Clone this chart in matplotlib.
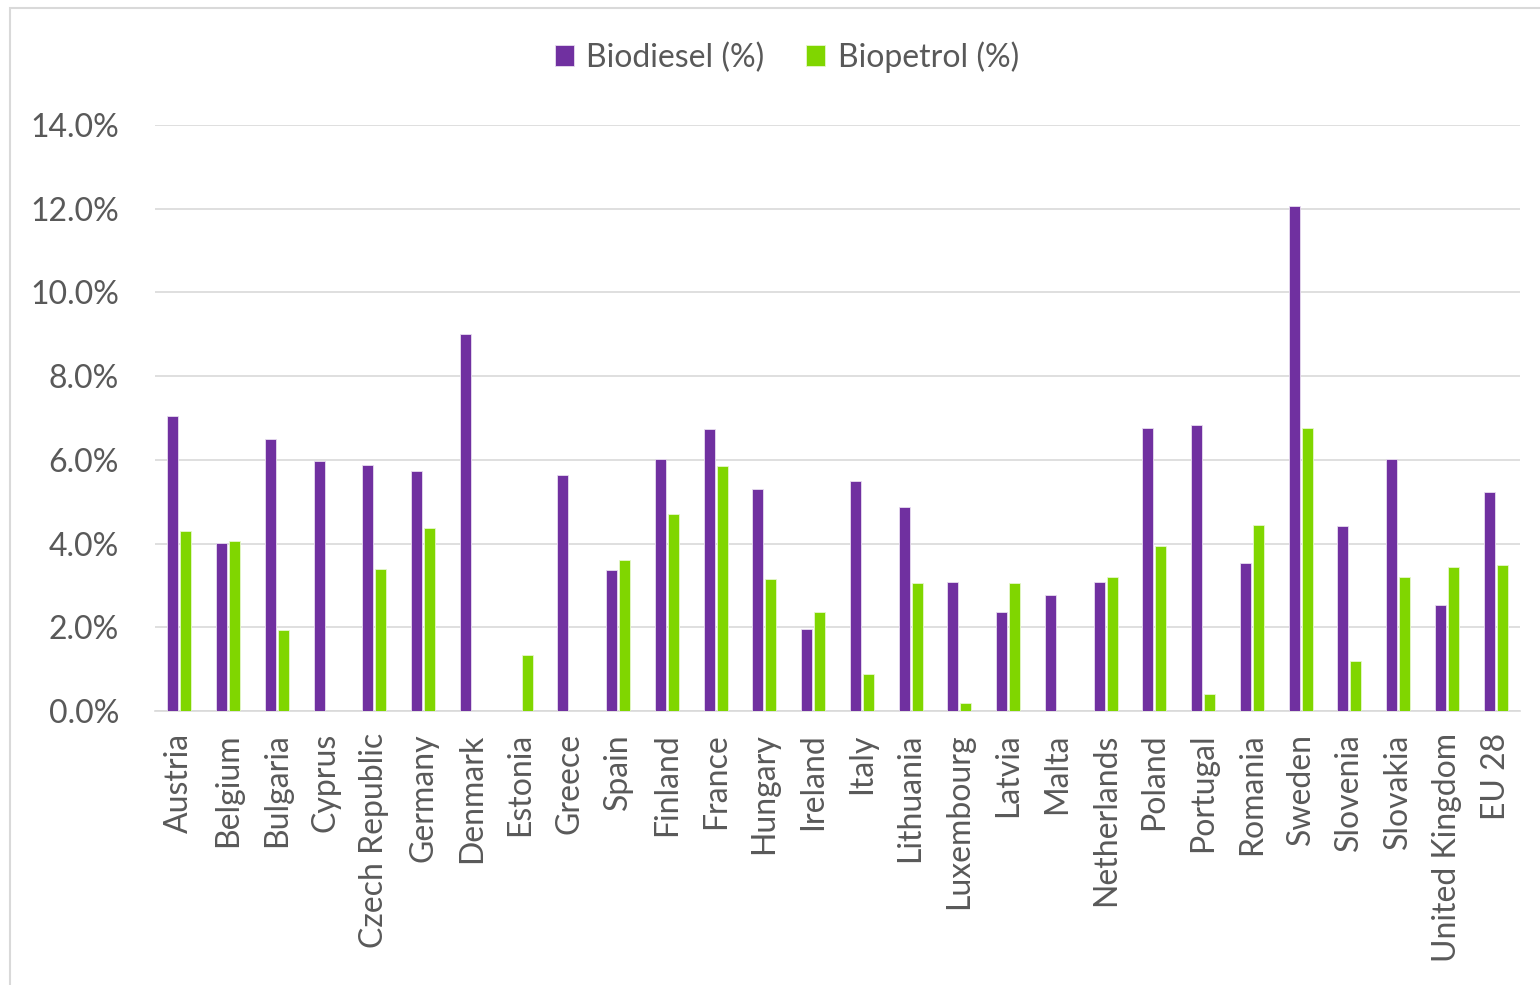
import numpy as np
import matplotlib
matplotlib.use("Agg")
import matplotlib.pyplot as plt
from matplotlib.patches import Rectangle
from matplotlib.ticker import PercentFormatter

countries = ["Austria", "Belgium", "Bulgaria", "Cyprus", "Czech Republic",
             "Germany", "Denmark", "Estonia", "Greece", "Spain", "Finland",
             "France", "Hungary", "Ireland", "Italy", "Lithuania",
             "Luxembourg", "Latvia", "Malta", "Netherlands", "Poland",
             "Portugal", "Romania", "Sweden", "Slovenia", "Slovakia",
             "United Kingdom", "EU 28"]
biodiesel = [7.05, 4.01, 6.50, 5.97, 5.88, 5.73, 9.00, 0.0, 5.64, 3.37,
             6.02, 6.74, 5.30, 1.96, 5.49, 4.87, 3.08, 2.37, 2.77, 3.08,
             6.76, 6.83, 3.54, 12.06, 4.42, 6.02, 2.53, 5.23]
biopetrol = [4.30, 4.06, 1.93, 0.0, 3.39, 4.37, 0.0, 1.34, 0.0, 3.61,
             4.71, 5.85, 3.15, 2.37, 0.88, 3.06, 0.19, 3.06, 0.0, 3.20,
             3.94, 0.41, 4.44, 6.76, 1.19, 3.20, 3.44, 3.49]

purple = "#7030A0"
green = "#80D600"
grey = "#595959"

plt.rcParams["font.family"] = ["Lato", "DejaVu Sans"]

fig = plt.figure(figsize=(15.4, 9.85), dpi=100)
ax = fig.add_axes([155 / 1540, 1 - 711 / 985, 1365 / 1540, 586 / 985])

# outer chart border
fig.patches.append(Rectangle((10 / 1540, -0.01), 1.0, 1 - 8 / 985 + 0.01,
                             transform=fig.transFigure, fill=False,
                             edgecolor="#D9D9D9", linewidth=1.5))

x = np.arange(len(countries))
w = 0.225
ax.bar(x - w / 2 - 0.02, biodiesel, w, color=purple, edgecolor="#E8DDF0",
       linewidth=0.6, label="Biodiesel (%)", zorder=3)
ax.bar(x + w / 2 + 0.02, biopetrol, w, color=green, edgecolor="#E6F7CC",
       linewidth=0.6, label="Biopetrol (%)", zorder=3)

ax.set_xlim(-0.5, len(countries) - 0.5)
ax.set_ylim(0, 14)
ax.set_yticks(np.arange(0, 14.1, 2))
ax.yaxis.set_major_formatter(PercentFormatter(decimals=1))
ax.grid(axis="y", color="#D9D9D9", linewidth=1.2, zorder=0)
for s in ["top", "right", "left"]:
    ax.spines[s].set_visible(False)
ax.spines["bottom"].set_color("#D9D9D9")
ax.spines["bottom"].set_linewidth(1.2)

ax.set_xticks(x)
ax.set_xticklabels(countries, rotation=90, fontsize=23, color=grey)
ax.tick_params(axis="x", length=0, pad=16)
ax.tick_params(axis="y", length=0, pad=26, labelsize=23, labelcolor=grey)

fig.legend(loc="center", bbox_to_anchor=(787 / 1540, 1 - 57 / 985), ncol=2,
           frameon=False, fontsize=23, labelcolor=grey, handlelength=0.6,
           handleheight=0.6, handletextpad=0.4, columnspacing=1.3)

fig.savefig("out.png", dpi=100)
